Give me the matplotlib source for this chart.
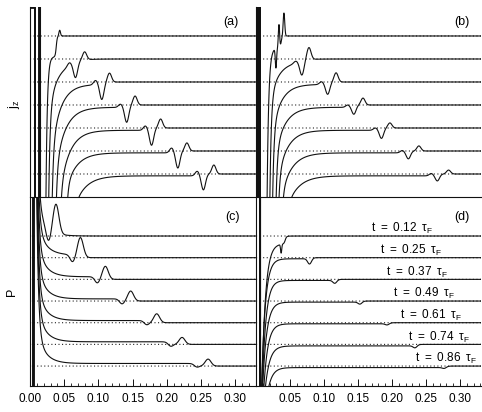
import numpy as np
import matplotlib
matplotlib.use("Agg")
import matplotlib.pyplot as plt

plt.rcParams['font.family'] = ['Liberation Sans', 'DejaVu Sans']
plt.rcParams['mathtext.fontset'] = 'custom'
plt.rcParams['mathtext.rm'] = 'Liberation Sans'
plt.rcParams['mathtext.it'] = 'Liberation Sans:italic'
plt.rcParams['path.simplify'] = False

# ---------------- data ----------------
times = [0.12, 0.25, 0.37, 0.49, 0.61, 0.74, 0.86]          # in tau_F
baselines = [6, 5, 4, 3, 2, 1, 0]                            # stacking offsets

# panel (a): j_z
a_plateau = [0.90, 0.10, 0.10, 0.10, 0.10, 0.08, 0.08]
a_rise_x = [0.026, 0.037, 0.045, 0.051, 0.057, 0.059, 0.069]
a_rise_L = [0.002, 0.013, 0.013, 0.014, 0.014, 0.015, 0.016]
a_wall_x = [0.023, 0.027, 0.032, 0.038, 0.045, 0.054, 0.068]
a_dip_x = [0.038, 0.066, 0.104, 0.140, 0.176, 0.214, 0.251]
a_dip_d = [0.00, 0.65, 0.70, 0.70, 0.70, 0.70, 0.65]
a_peak_x = [0.043, 0.079, 0.115, 0.152, 0.189, 0.227, 0.266]
a_peak_h = [0.25, 0.35, 0.39, 0.39, 0.39, 0.35, 0.39]
a_bump_h = [0.00, 0.15, 0.19, 0.14, 0.19, 0.21, 0.20]

# panel (b): j_z
b_plateau = [0.50, 0.10, 0.10, 0.10, 0.10, 0.08, 0.08]
b_rise_x = [0.024, 0.032, 0.038, 0.043, 0.047, 0.051, 0.055]
b_rise_L = [0.003, 0.013, 0.013, 0.014, 0.014, 0.015, 0.016]
b_wall_x = [0.021, 0.025, 0.029, 0.034, 0.038, 0.044, 0.054]
b_dip_x = [0.0415, 0.0716, 0.109, 0.147, 0.187, 0.226, 0.268]
b_dip_d = [0.00, 0.60, 0.48, 0.35, 0.40, 0.30, 0.26]
b_peak_x = [0.0455, 0.0817, 0.121, 0.160, 0.199, 0.241, 0.284]
b_peak_h = [1.00, 0.52, 0.40, 0.30, 0.22, 0.22, 0.17]
b_bump_h = [0.00, 0.10, 0.12, 0.10, 0.10, 0.10, 0.10]
b_top_wiggle_x = [0.0339, 0.0383]
b_top_wiggle_a = [-0.85, 1.00]

# panel (c): P
c_plateau = [0.00, 0.12, 0.12, 0.10, 0.10, 0.12, 0.12]
c_up_x = [0.0040, 0.0043, 0.0046, 0.0050, 0.0054, 0.0058, 0.0062]
c_tail_a = [0.35, 0.35, 0.35, 0.35, 0.35, 0.35, 0.35]
c_dip_x = [0.027, 0.062, 0.098, 0.134, 0.170, 0.205, 0.243]
c_dip_d = [0.60, 0.28, 0.23, 0.18, 0.14, 0.14, 0.10]
c_peak_x = [0.038, 0.0736, 0.110, 0.147, 0.185, 0.222, 0.260]
c_peak_h = [1.33, 0.92, 0.60, 0.46, 0.41, 0.32, 0.32]

# panel (d): P
d_plateau = [0.35, 0.05, 0.05, 0.05, 0.05, 0.07, 0.07]
d_rise_x = [0.019, 0.018, 0.018, 0.018, 0.018, 0.018, 0.018]
d_rise_L = [0.0055, 0.0055, 0.0055, 0.0060, 0.0060, 0.0065, 0.0065]
d_dip_x = [0.037, 0.0788, 0.116, 0.153, 0.193, 0.234, 0.277]
d_dip_d = [0.40, 0.25, 0.14, 0.10, 0.06, 0.10, 0.05]
d_edge_x = [0.0052, 0.0054, 0.0056, 0.0058, 0.0061, 0.0064, 0.0067]

# ---------------- layout ----------------
W, H = 482, 412
top_ylim = (-1.0, 7.26)
bot_ylim = (-0.92, 7.8)
left_xlim = (0.0, 0.327)
right_xlim = (0.005, 0.331)
label_right_px = [433, 442, 448, 455, 462, 470, 477]

x = np.linspace(0.0, 0.335, 8000)


def g(x, c, s):
    return np.exp(-((x - c) / s) ** 2)


def ex(z):
    return np.exp(np.clip(z, -60, 60))


def step_down(x, c, w):
    return 0.5 * (1 - np.tanh((x - c) / w))


def jz_curve(k, P, ylim, box_x, spike_x, sd):
    ymin, ytop = ylim
    base = baselines[k]
    p, xr, L, xw = P['plateau'][k], P['rise_x'][k], P['rise_L'][k], P['wall_x'][k]
    xd, D, xp, Hh, B = P['dip_x'][k], P['dip_d'][k], P['peak_x'][k], P['peak_h'][k], P['bump_h'][k]
    slow = ex(-(x - xr) / L)
    depth = base - ymin + 0.3
    famp = max(depth - p - float(np.exp(-(xw - xr) / L)), 0.0)
    fast = famp * ex(-(x - xw) / 0.002)
    wd = 0.004 if k > 0 else 0.0015
    y = base - p * step_down(x, xd, wd) - slow - fast
    s = sd if k > 0 else 0.0016
    y = y - D * g(x, xd, s) + Hh * g(x, xp, s) + B * g(x, xd - 0.009, s)
    if k == 0 and 'wig_x' in P:
        for wx, wa in zip(P['wig_x'], P['wig_a']):
            y = y + wa * g(x, wx, 0.0013)
    lo, hi = ymin - 1.0, ytop + 1.0
    y = np.clip(y, lo, hi)
    y = np.where(x < box_x, ytop - 0.03, y)
    sx = spike_x + 0.00025 * k
    y = np.where((x >= box_x) & (x < sx), lo, y)
    y = np.where((x >= sx) & (x < sx + 0.0009), hi, y)
    return y


def pc_curve(k):
    base = baselines[k]
    lo, hi = bot_ylim[0] - 1.0, bot_ylim[1] + 1.0
    tail = c_tail_a[k] * ex(-(x - 0.027) / 0.012) + ex(-(x - 0.0145) / 0.0025)
    y = base + tail + c_plateau[k] * step_down(x, c_dip_x[k], 0.005)
    y = y - c_dip_d[k] * g(x, c_dip_x[k], 0.005) + c_peak_h[k] * g(x, c_peak_x[k], 0.006)
    y = np.clip(y, lo, hi)
    y = np.where(x < c_up_x[k], lo, y)
    return y


def pd_curve(k):
    base = baselines[k]
    lo, hi = bot_ylim[0] - 1.0, bot_ylim[1] + 1.0
    if k == 0:
        st = step_down(x, 0.043, 0.002)
        dip = d_dip_d[k] * g(x, d_dip_x[k], 0.0012)
    else:
        st = step_down(x, d_dip_x[k] + 0.003, 0.004)
        dip = d_dip_d[k] * g(x, d_dip_x[k], 0.004)
    y = base - d_plateau[k] * st - ex(-(x - d_rise_x[k]) / d_rise_L[k]) - dip
    y = np.clip(y, lo, hi)
    y = np.where(x < d_edge_x[k], hi, y)
    return y


fig = plt.figure(figsize=(W / 100, H / 100), dpi=100)


def add(l, t, r, b):
    return fig.add_axes([l / W, 1 - b / H, (r - l) / W, (b - t) / H])


ax_a = add(30, 7, 256, 197)
ax_b = add(256, 7, 481, 197)
ax_c = add(30, 197, 256, 386)
ax_d = add(256, 197, 481, 386)

lc = '#111111'
lw = 0.8
dot = dict(color='#222222', lw=0.8, linestyle=(0, (1, 2.2)), zorder=1, snap=False)

Pa = dict(plateau=a_plateau, rise_x=a_rise_x, rise_L=a_rise_L, wall_x=a_wall_x,
          dip_x=a_dip_x, dip_d=a_dip_d, peak_x=a_peak_x, peak_h=a_peak_h, bump_h=a_bump_h)
Pb = dict(plateau=b_plateau, rise_x=b_rise_x, rise_L=b_rise_L, wall_x=b_wall_x,
          dip_x=b_dip_x, dip_d=b_dip_d, peak_x=b_peak_x, peak_h=b_peak_h, bump_h=b_bump_h,
          wig_x=b_top_wiggle_x, wig_a=b_top_wiggle_a)

for k in range(len(times)):
    for ax in (ax_a, ax_b, ax_c, ax_d):
        ax.axhline(baselines[k], **dot)
    ax_a.plot(x, jz_curve(k, Pa, top_ylim, 0.0072, 0.0128, 0.0042), color=lc, lw=lw, zorder=3, snap=False)
    ax_b.plot(x, jz_curve(k, Pb, top_ylim, 0.0075, 0.0088, 0.0042), color=lc, lw=lw, zorder=3, snap=False)
    ax_c.plot(x, pc_curve(k), color=lc, lw=lw, zorder=3, snap=False)
    ax_d.plot(x, pd_curve(k), color=lc, lw=lw, zorder=3, snap=False)

for ax in (ax_a, ax_b):
    ax.set_ylim(*top_ylim)
for ax in (ax_c, ax_d):
    ax.set_ylim(*bot_ylim)
for ax in (ax_a, ax_c):
    ax.set_xlim(*left_xlim)
for ax in (ax_b, ax_d):
    ax.set_xlim(*right_xlim)

for ax in (ax_a, ax_b, ax_c, ax_d):
    ax.set_yticks([])
    ax.spines['top'].set_visible(False)
    ax.spines['right'].set_visible(False)
    for s in ('left', 'bottom'):
        ax.spines[s].set_linewidth(0.8)
        ax.spines[s].set_color('#111111')
    ax.patch.set_visible(False)

for ax in (ax_a, ax_b):
    ax.set_xticks([])

major_c = np.arange(0, 0.301, 0.05)
major_d = np.arange(0.05, 0.301, 0.05)
ax_c.set_xticks(major_c)
ax_c.set_xticklabels([f"{v:.2f}" for v in major_c])
ax_d.set_xticks(major_d)
ax_d.set_xticklabels([f"{v:.2f}" for v in major_d])
for ax in (ax_c, ax_d):
    ax.set_xticks(np.arange(0, 0.331, 0.01), minor=True)
    ax.tick_params(axis='x', which='major', direction='in', length=5, width=0.7,
                   labelsize=8.5, pad=5, color='#111111')
    ax.tick_params(axis='x', which='minor', direction='in', length=2.5, width=0.6,
                   color='#111111')

# panel letters
ax_a.text(0.889, 0.921, '(a)', transform=ax_a.transAxes, ha='center', va='center', fontsize=9)
ax_b.text(0.916, 0.921, '(b)', transform=ax_b.transAxes, ha='center', va='center', fontsize=9)
ax_c.text(0.898, 0.894, '(c)', transform=ax_c.transAxes, ha='center', va='center', fontsize=9)
ax_d.text(0.916, 0.894, '(d)', transform=ax_d.transAxes, ha='center', va='center', fontsize=9)

# time labels in (d)
for k, t in enumerate(times):
    xr_px = label_right_px[k]
    xd = right_xlim[0] + (xr_px - 256) / 691.0
    ax_d.text(xd, baselines[k] + 0.33, f"t\u2002=\u2002{t:.2f}\u2002τ" + r"${}_{\rm F}$",
              ha='right', va='center', fontsize=8.5)

# y labels
fig.text(14 / W, 1 - 104 / H, r"$\mathregular{j_z}$", rotation=90, ha='center', va='center', fontsize=9)
fig.text(12 / W, 1 - 292 / H, "P", rotation=90, ha='center', va='center', fontsize=9)

fig.savefig('out.png', dpi=100)
